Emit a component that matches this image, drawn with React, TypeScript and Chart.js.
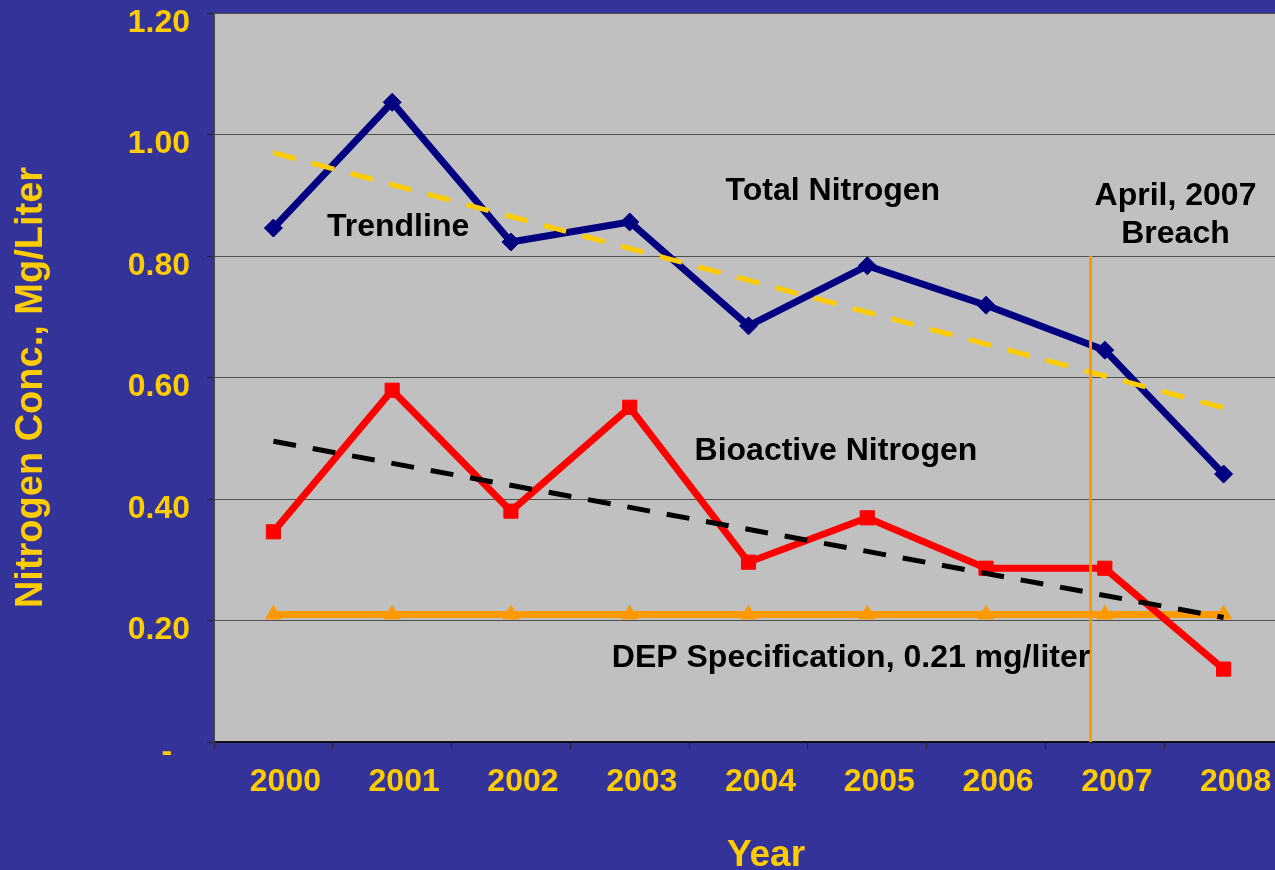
import React, { useEffect, useRef } from 'react';
import { Chart, registerables } from 'chart.js';

Chart.register(...registerables);

// ---------- data ----------
const years = ['2000', '2001', '2002', '2003', '2004', '2005', '2006', '2007', '2008'];
const totalNitrogen = [0.846, 1.053, 0.823, 0.856, 0.685, 0.784, 0.719, 0.645, 0.441];
const bioactiveNitrogen = [0.346, 0.579, 0.38, 0.551, 0.296, 0.369, 0.286, 0.286, 0.12];
const depSpecification = [0.21, 0.21, 0.21, 0.21, 0.21, 0.21, 0.21, 0.21, 0.21];
const totalTrend = [0.97, null, null, null, null, null, null, null, 0.55];
const bioactiveTrend = [0.495, null, null, null, null, null, null, null, 0.205];
const breachIndex = 6.88; // April 2007, in category-index units
const breachTop = 0.8;
const yTickLabels = ['-  ', '0.20', '0.40', '0.60', '0.80', '1.00', '1.20'];

const FONT = '"Liberation Sans", Arial, Helvetica, sans-serif';
const YELLOW = '#FFCC00';
const BG = '#333399';
const PLOT = '#C0C0C0';

// text annotations placed in data coordinates (x in category index units, y = baseline value)
const notes = [
  { text: 'Trendline', x: 1.05, y: 0.833 },
  { text: 'Total Nitrogen', x: 4.71, y: 0.892 },
  { text: 'April, 2007', x: 7.595, y: 0.884 },
  { text: 'Breach', x: 7.595, y: 0.821 },
  { text: 'Bioactive Nitrogen', x: 4.736, y: 0.464 },
  { text: 'DEP Specification, 0.21 mg/liter', x: 4.863, y: 0.123 },
];

const bgPlugin = {
  id: 'bgPlugin',
  beforeDraw(chart: any) {
    const { ctx, chartArea: a, width, height } = chart;
    ctx.save();
    ctx.fillStyle = BG;
    ctx.fillRect(0, 0, width, height);
    ctx.fillStyle = PLOT;
    ctx.fillRect(a.left, a.top, a.right - a.left, a.bottom - a.top);
    ctx.restore();
  },
};

const notesPlugin = {
  id: 'notesPlugin',
  afterDatasetsDraw(chart: any) {
    const { ctx } = chart;
    const xs = chart.scales.x2;
    const ys = chart.scales.y;
    ctx.save();
    ctx.fillStyle = '#000000';
    ctx.font = `bold 32px ${FONT}`;
    ctx.textAlign = 'center';
    ctx.textBaseline = 'alphabetic';
    for (const n of notes) {
      ctx.fillText(n.text, xs.getPixelForValue(n.x), ys.getPixelForValue(n.y));
    }
    ctx.restore();
  },
  afterDraw(chart: any) {
    const { ctx, chartArea: a } = chart;
    ctx.save();
    ctx.fillStyle = YELLOW;
    ctx.textAlign = 'center';
    ctx.textBaseline = 'alphabetic';
    ctx.font = `bold 37px ${FONT}`;
    ctx.fillText('Year', 766, 866);
    ctx.font = `bold 38px ${FONT}`;
    ctx.translate(42, (a.top + a.bottom) / 2 + 10);
    ctx.rotate(-Math.PI / 2);
    ctx.fillText('Nitrogen Conc., Mg/Liter', 0, 0);
    ctx.restore();
  },
};

export default function App() {
  const ref = useRef<HTMLCanvasElement>(null);

  useEffect(() => {
    if (!ref.current) return;
    const chart = new Chart(ref.current, {
      type: 'line',
      data: {
        labels: years,
        datasets: [
          {
            label: 'Breach',
            xAxisID: 'x2',
            yAxisID: 'y',
            data: [
              { x: breachIndex, y: 0 },
              { x: breachIndex, y: breachTop },
            ],
            borderColor: '#FF9900',
            borderWidth: 3,
            pointRadius: 0,
            clip: false,
            order: 0,
          },
          {
            label: 'Total Nitrogen Trendline',
            data: totalTrend,
            spanGaps: true,
            borderColor: YELLOW,
            borderWidth: 5,
            borderDash: [23, 17],
            pointRadius: 0,
            order: 1,
          },
          {
            label: 'Bioactive Nitrogen Trendline',
            data: bioactiveTrend,
            spanGaps: true,
            borderColor: '#000000',
            borderWidth: 5,
            borderDash: [23, 17],
            pointRadius: 0,
            order: 1,
          },
          {
            label: 'Total Nitrogen',
            data: totalNitrogen,
            borderColor: '#000080',
            backgroundColor: '#000080',
            borderWidth: 7,
            pointStyle: 'rectRot',
            pointRadius: 9,
            pointBorderWidth: 1,
            order: 2,
          },
          {
            label: 'Bioactive Nitrogen',
            data: bioactiveNitrogen,
            borderColor: '#FF0000',
            backgroundColor: '#FF0000',
            borderWidth: 7,
            pointStyle: 'rect',
            pointRadius: 10,
            pointBorderWidth: 1,
            order: 3,
          },
          {
            label: 'DEP Specification',
            data: depSpecification,
            borderColor: '#FF9900',
            backgroundColor: '#FF9900',
            borderWidth: 7,
            pointStyle: 'triangle',
            pointRadius: 9,
            pointBorderWidth: 1,
            order: 4,
          },
        ],
      },
      options: {
        animation: false,
        responsive: false,
        maintainAspectRatio: false,
        layout: { padding: { top: 13, left: 0, right: 0, bottom: 0 } },
        plugins: {
          legend: { display: false },
          tooltip: { enabled: false },
          title: { display: false },
        },
        elements: { line: { tension: 0 } },
        scales: {
          x: {
            type: 'category',
            offset: true,
            grid: {
              display: true,
              drawOnChartArea: false,
              drawTicks: true,
              tickLength: 7,
              offset: true,
              color: '#222222',
              lineWidth: 1,
            },
            border: { display: true, color: '#111111', width: 2 },
            ticks: {
              color: YELLOW,
              font: { family: FONT, size: 32, weight: 'bold' },
              labelOffset: 12,
              padding: 14,
              maxRotation: 0,
              autoSkip: false,
            },
            afterFit(s: any) {
              s.height = 128;
              s.paddingLeft = 0;
              s.paddingRight = 0;
            },
          },
          x2: {
            type: 'linear',
            display: false,
            min: -0.5,
            max: 8.5,
          },
          y: {
            min: 0,
            max: 1.2,
            ticks: {
              stepSize: 0.2,
              color: YELLOW,
              font: { family: FONT, size: 32, weight: 'bold' },
              padding: 17,
              labelOffset: 10,
              callback: (_v: any, i: number) => yTickLabels[i],
            },
            grid: {
              color: '#505050',
              tickColor: '#222222',
              tickLength: 7,
              lineWidth: 1,
            },
            border: { display: true, color: '#444444', width: 2 },
            afterFit(s: any) {
              s.width = 214;
              s.paddingTop = 0;
              s.paddingBottom = 0;
            },
          },
        },
      } as any,
      plugins: [bgPlugin, notesPlugin],
    });
    return () => chart.destroy();
  }, []);

  return (
    <div
      style={{
        position: 'absolute',
        left: 0,
        top: 0,
        width: 1275,
        height: 870,
        overflow: 'hidden',
        background: BG,
      }}
    >
      <canvas ref={ref} width={1294} height={870} style={{ display: 'block' }} />
    </div>
  );
}
